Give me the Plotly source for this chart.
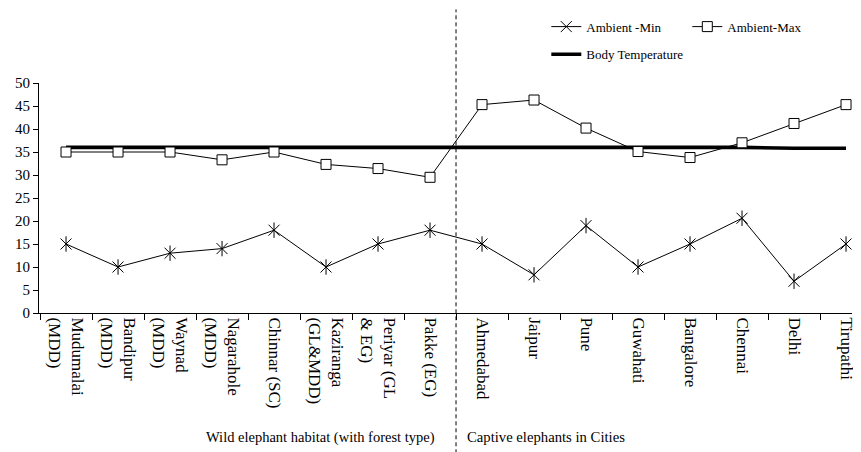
import plotly.graph_objects as go

categories = ["Mudumalai (MDD)", "Bandipur (MDD)", "Waynad (MDD)", "Nagarahole (MDD)",
              "Chinnar (SC)", "Kaziranga (GL&MDD)", "Periyar (GL & EG)", "Pakke (EG)",
              "Ahmedabad", "Jaipur", "Pune", "Guwahati", "Bangalore", "Chennai", "Delhi", "Tirupathi"]
tick_labels = ["Mudumalai<br>(MDD)", "Bandipur<br>(MDD)", "Waynad<br>(MDD)", "Nagarahole<br>(MDD)",
               "Chinnar (SC)", "Kaziranga<br>(GL&MDD)", "Periyar (GL<br>& EG)", "Pakke (EG)",
               "Ahmedabad", "Jaipur", "Pune", "Guwahati", "Bangalore", "Chennai", "Delhi", "Tirupathi"]
ambient_min = [15, 10, 13, 14, 18, 10, 15, 18, 15, 8.3, 19, 10, 15, 20.6, 6.9, 15]
ambient_max = [35, 35, 35, 33.3, 35, 32.3, 31.4, 29.5, 45.3, 46.3, 40.2, 35.1, 33.8, 37, 41.2, 45.3]
body_temp = [36, 36, 36, 36, 36, 36, 36, 36, 36, 36, 36, 36, 36, 36, 35.8, 35.8]
y_ticks = [0, 5, 10, 15, 20, 25, 30, 35, 40, 45, 50]
group_wild = "Wild elephant habitat (with forest type)"
group_city = "Captive elephants in Cities"

FONT = "Liberation Serif"

fig = go.Figure()
fig.add_trace(go.Scatter(
    x=categories, y=body_temp, mode="lines", name="Body Temperature",
    line=dict(color="black", width=3.6), legend="legend2"))
fig.add_trace(go.Scatter(
    x=categories, y=ambient_min, mode="lines+markers", name="Ambient -Min",
    line=dict(color="black", width=1),
    marker=dict(symbol="x-thin-open", size=11, color="black", line=dict(color="black", width=1))))
fig.add_trace(go.Scatter(
    x=categories, y=ambient_min, mode="markers", showlegend=False, hoverinfo="skip",
    marker=dict(symbol="line-ns-open", size=11, color="black", line=dict(color="black", width=1))))
fig.add_trace(go.Scatter(
    x=categories, y=ambient_max, mode="lines+markers", name="Ambient-Max",
    line=dict(color="black", width=1),
    marker=dict(symbol="square", size=10, color="white", line=dict(color="black", width=1))))

fig.add_shape(type="line", xref="x", yref="paper", x0=7.5, x1=7.5, y0=-0.61, y1=1.32,
              line=dict(color="black", width=1, dash="4px,3px"))

fig.add_annotation(text=group_wild, xref="x", yref="paper", x=7.13, y=-0.54,
                   xanchor="right", yanchor="middle", showarrow=False,
                   font=dict(family=FONT, size=14.5, color="black"))
fig.add_annotation(text=group_city, xref="x", yref="paper", x=7.68, y=-0.54,
                   xanchor="left", yanchor="middle", showarrow=False,
                   font=dict(family=FONT, size=14.7, color="black"))

fig.update_layout(
    width=853, height=444,
    margin=dict(l=31, r=9, t=75, b=139, autoexpand=False),
    paper_bgcolor="white", plot_bgcolor="white",
    font=dict(family=FONT, color="black"),
    showlegend=True,
    legend=dict(orientation="h", x=0.624, y=1.245, xanchor="left", yanchor="middle",
                font=dict(family=FONT, size=13, color="black"),
                entrywidth=96, bgcolor="rgba(0,0,0,0)", borderwidth=0),
    legend2=dict(orientation="h", x=0.624, y=1.125, xanchor="left", yanchor="middle",
                 font=dict(family=FONT, size=13, color="black"),
                 bgcolor="rgba(0,0,0,0)", borderwidth=0),
    xaxis=dict(type="category", range=[-0.52, 15.115], tickmode="array",
               tickvals=categories, ticktext=tick_labels, tickangle=90,
               tickson="boundaries", ticks="outside", ticklen=6, tickcolor="black",
               showline=True, linecolor="black", linewidth=1, showgrid=False,
               zeroline=False, tickfont=dict(family=FONT, size=17, color="black")),
    yaxis=dict(range=[0, 50], tickmode="array", tickvals=y_ticks,
               ticks="outside", ticklen=5, tickcolor="black",
               showline=True, linecolor="black", linewidth=1, showgrid=False,
               zeroline=False, tickfont=dict(family=FONT, size=15, color="black")),
)

fig.write_html("out.html")
